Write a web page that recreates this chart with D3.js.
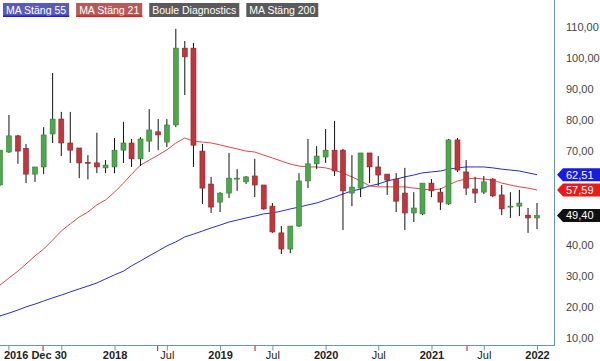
<!DOCTYPE html>
<html>
<head>
<meta charset="utf-8">
<script src="https://cdn.jsdelivr.net/npm/d3@7"></script>
<style>
  body { margin: 0; background: #fff; }
  svg { display: block; font-family: "Liberation Sans", Arial, sans-serif; }
</style>
</head>
<body>
<div id="chart"></div>
<script>
// monthly candles, Dec 2016 .. Jan 2022
var opens  = [59.2,69.8,75.0,71.0,62.7,65.0,75.6,80.4,72.7,71.1,66.5,66.3,64.7,65.0,70.4,72.7,67.6,73.3,76.3,73.0,78.5,103.2,103.2,70.1,59.5,53.7,56.6,61.1,60.2,62.1,59.2,52.4,43.8,38.6,46.0,60.5,66.0,68.2,70.4,70.4,56.6,58.2,69.5,65.0,62.7,61.1,56.6,50.2,49.9,59.8,56.9,53.1,73.7,63.4,57.9,56.9,61.1,56.0,52.1,52.4,49.5,48.6];
var highs  = [70.4,81.7,75.3,72.4,65.0,77.8,95.2,82.7,82.7,71.1,68.8,76.0,67.2,74.3,79.5,74.0,74.6,83.6,80.4,80.4,109.4,105.5,104.9,72.4,61.8,56.9,69.5,64.3,62.1,67.6,59.2,53.4,46.0,46.0,63.0,74.0,71.7,77.2,79.8,70.8,68.8,69.5,69.5,68.5,62.7,63.0,64.7,56.9,59.8,61.1,58.2,74.0,74.3,67.2,61.8,62.1,61.4,59.2,56.9,57.6,51.8,53.4];
var lows   = [59.0,69.5,66.0,59.8,60.2,62.7,72.7,68.5,66.3,61.4,61.0,63.0,63.0,63.0,66.3,65.0,65.3,69.8,70.4,71.4,77.8,88.1,65.0,53.1,50.2,50.5,55.0,57.3,59.5,55.3,51.2,43.8,37.0,37.3,45.7,58.2,64.3,66.3,62.1,44.7,52.4,55.3,59.8,58.9,56.0,50.5,44.7,47.3,49.5,55.3,51.2,52.8,63.4,56.0,53.4,56.3,55.3,49.5,48.6,49.2,43.8,45.0];
var closes = [70.4,75.0,70.1,62.7,65.0,75.3,80.4,72.7,70.4,66.3,66.3,65.0,65.6,70.4,72.7,67.6,74.0,76.9,75.3,78.5,103.2,100.4,72.0,58.2,52.1,56.6,61.4,61.4,61.8,59.2,51.5,44.1,38.6,46.0,60.5,66.0,68.5,70.4,63.7,57.3,58.5,69.5,65.0,62.4,60.8,54.0,50.2,51.8,59.8,57.3,53.7,73.7,64.0,58.2,56.6,60.2,55.7,51.5,52.4,53.4,48.6,49.4];
var ma21   = [27.0,29.3,31.5,33.8,36.4,38.6,41.5,44.4,46.7,48.9,50.5,52.8,54.4,56.9,59.8,62.7,65.6,67.2,68.8,70.5,72.7,74.3,73.3,73.0,72.7,72.1,71.4,70.8,70.1,69.8,68.8,67.9,66.9,65.9,65.3,65.0,65.0,64.7,64.0,63.0,61.8,60.5,58.9,58.6,58.6,58.6,58.6,58.2,57.9,57.6,57.9,59.2,60.5,61.1,61.4,61.1,60.8,59.8,59.2,58.6,58.2,57.59];
var ma55   = [17.1,18.0,19.0,20.0,20.9,21.9,22.9,23.8,24.8,25.8,26.7,27.7,29.0,30.3,31.5,33.2,34.8,36.4,38.0,39.6,40.9,42.5,43.4,44.4,45.4,46.3,47.3,47.9,48.6,49.2,49.9,50.2,50.8,51.5,52.1,52.8,53.4,54.4,55.3,56.3,57.3,57.9,58.9,59.5,60.5,61.1,61.8,62.4,63.1,63.4,63.7,64.3,64.7,65.0,65.0,65.0,64.7,64.3,64.0,63.7,63.1,62.51];

// 50 and 60 sit behind the value tags in the original
var yTicks = [10,20,30,40,70,80,90,100,110];
var xTicks = [
  { d: new Date(2016,11,30), t: "2016 Dec 30", b: true },
  { d: new Date(2017,6,1),  t: "",     b: false },
  { d: new Date(2018,0,1),  t: "2018", b: true },
  { d: new Date(2018,6,1),  t: "Jul",  b: false },
  { d: new Date(2019,0,1),  t: "2019", b: true },
  { d: new Date(2019,6,1),  t: "Jul",  b: false },
  { d: new Date(2020,0,1),  t: "2020", b: true },
  { d: new Date(2020,6,1),  t: "Jul",  b: false },
  { d: new Date(2021,0,1),  t: "2021", b: true },
  { d: new Date(2021,6,1),  t: "Jul",  b: false },
  { d: new Date(2022,0,1),  t: "2022", b: true }
];
var eventDates = [new Date(2017,3,29), new Date(2018,4,30), new Date(2019,4,2), new Date(2021,4,4)];

var legendItems = [
  { label: "MA Stäng 55", bg: "#5b5bb5", line: "#1f1fd6" },
  { label: "MA Stäng 21", bg: "#b55a5a", line: "#e01f1f" },
  { label: "Boule Diagnostics", bg: "#5a5a5a", line: null },
  { label: "MA Stäng 200", bg: "#5a5a5a", line: null }
];

var width = 600, height = 361;
var plotRight = 554, axisY = 345;
var axisColor = "#6a97a8";

var months = d3.timeMonth.range(new Date(2016,11,1), new Date(2022,1,1));

var x = d3.scaleTime()
    .domain([new Date(2016,11,1), new Date(2022,0,1)])
    .range([0, 537]);
var y = d3.scaleLinear()
    .domain([10, 110])
    .range([338, 27]);

var svg = d3.select("#chart")
  .append("svg")
  .attr("width", width)
  .attr("height", height);

svg.append("defs").append("clipPath")
  .attr("id", "plot")
  .append("rect")
  .attr("x", 0).attr("y", 0)
  .attr("width", plotRight).attr("height", axisY);

var plot = svg.append("g").attr("clip-path", "url(#plot)");

// moving averages
var line = function(vals) {
  return d3.line()
    .x(function(d, i) { return x(months[i]); })
    .y(function(d) { return y(d); })(vals);
};
plot.append("path")
  .attr("d", line(ma55))
  .attr("fill", "none")
  .attr("stroke", "#2a2ac8")
  .attr("stroke-width", 1);
plot.append("path")
  .attr("d", line(ma21))
  .attr("fill", "none")
  .attr("stroke", "#e04848")
  .attr("stroke-width", 1);

// candles
var candles = plot.selectAll(".candle")
  .data(months)
  .enter().append("g")
  .attr("class", "candle");

candles.append("line")
  .attr("x1", function(d) { return x(d); })
  .attr("x2", function(d) { return x(d); })
  .attr("y1", function(d, i) { return y(highs[i]); })
  .attr("y2", function(d, i) { return y(lows[i]); })
  .attr("stroke", "#111")
  .attr("stroke-width", 1);

candles.append("rect")
  .attr("x", function(d) { return x(d) - 2.5; })
  .attr("width", 5)
  .attr("y", function(d, i) { return y(Math.max(opens[i], closes[i])); })
  .attr("height", function(d, i) {
    return Math.max(1, Math.abs(y(opens[i]) - y(closes[i])));
  })
  .attr("fill", function(d, i) { return closes[i] >= opens[i] ? "#4fa64f" : "#bf373d"; })
  .attr("stroke", function(d, i) { return closes[i] >= opens[i] ? "#347f34" : "#8e2228"; })
  .attr("stroke-width", 0.6);

// frame
svg.append("line")
  .attr("x1", 0).attr("x2", plotRight)
  .attr("y1", axisY + 0.5).attr("y2", axisY + 0.5)
  .attr("stroke", axisColor);
svg.append("line")
  .attr("x1", plotRight + 0.5).attr("x2", plotRight + 0.5)
  .attr("y1", 0).attr("y2", axisY + 1)
  .attr("stroke", axisColor);

// x axis
var xAxis = d3.axisBottom(x)
  .tickValues(xTicks.map(function(t) { return t.d; }))
  .tickFormat(function(d, i) { return xTicks[i].t; })
  .tickSize(5)
  .tickPadding(1);

var xg = svg.append("g")
  .attr("transform", "translate(0," + (axisY + 0.5) + ")")
  .call(xAxis);
xg.select(".domain").remove();
xg.selectAll(".tick line").attr("stroke", axisColor);
xg.selectAll(".tick text")
  .attr("font-family", "Liberation Sans, Arial, sans-serif")
  .attr("font-size", "11px")
  .attr("fill", "#222")
  .attr("font-weight", function(d, i) { return xTicks[i].b ? "bold" : "normal"; })
  .attr("text-anchor", function(d, i) { return i === 0 ? "start" : "middle"; })
  .attr("dx", function(d, i) { return i === 0 ? -5 : 0; });

svg.selectAll(".event")
  .data(eventDates)
  .enter().append("line")
  .attr("class", "event")
  .attr("x1", function(d) { return x(d); })
  .attr("x2", function(d) { return x(d); })
  .attr("y1", axisY + 1)
  .attr("y2", axisY + 6)
  .attr("stroke", "#e53030")
  .attr("stroke-width", 1.2);

// y axis
var yAxis = d3.axisRight(y)
  .tickValues(yTicks)
  .tickSize(0)
  .tickPadding(0)
  .tickFormat(function(d) { return d3.format(".2f")(d).replace(".", ","); });

var yg = svg.append("g")
  .attr("transform", "translate(566,0)")
  .call(yAxis);
yg.select(".domain").remove();
yg.selectAll(".tick text")
  .attr("font-family", "Liberation Sans, Arial, sans-serif")
  .attr("font-size", "11px")
  .attr("fill", "#444");

// last value tags
var tags = [
  { v: ma55[ma55.length - 1], c: "#1a1ae0" },
  { v: ma21[ma21.length - 1], c: "#e81a1a" },
  { v: closes[closes.length - 1], c: "#111" }
];
var tag = svg.selectAll(".tag")
  .data(tags)
  .enter().append("g")
  .attr("class", "tag")
  .attr("transform", function(d) { return "translate(0," + y(d.v) + ")"; });
tag.append("path")
  .attr("d", "M557,0 L563,-6.5 L600,-6.5 L600,6.5 L563,6.5 Z")
  .attr("fill", function(d) { return d.c; });
tag.append("text")
  .attr("x", 566)
  .attr("y", 4)
  .attr("font-size", "11px")
  .attr("fill", "#fff")
  .text(function(d) { return d3.format(".2f")(d.v).replace(".", ","); });

// legend
var lx = 3;
legendItems.forEach(function(item) {
  var g = svg.append("g").attr("transform", "translate(" + lx + ",3)");
  var txt = g.append("text")
    .attr("x", 3).attr("y", 10.5)
    .attr("font-size", "10.5px")
    .attr("fill", "#fff")
    .text(item.label);
  var w = txt.node().getComputedTextLength() + 6;
  g.insert("rect", "text")
    .attr("width", w).attr("height", 14)
    .attr("fill", item.bg);
  if (item.line) {
    g.append("rect")
      .attr("y", 12.5).attr("width", w).attr("height", 1.5)
      .attr("fill", item.line);
  }
  lx += w + 7;
});
</script>
</body>
</html>
